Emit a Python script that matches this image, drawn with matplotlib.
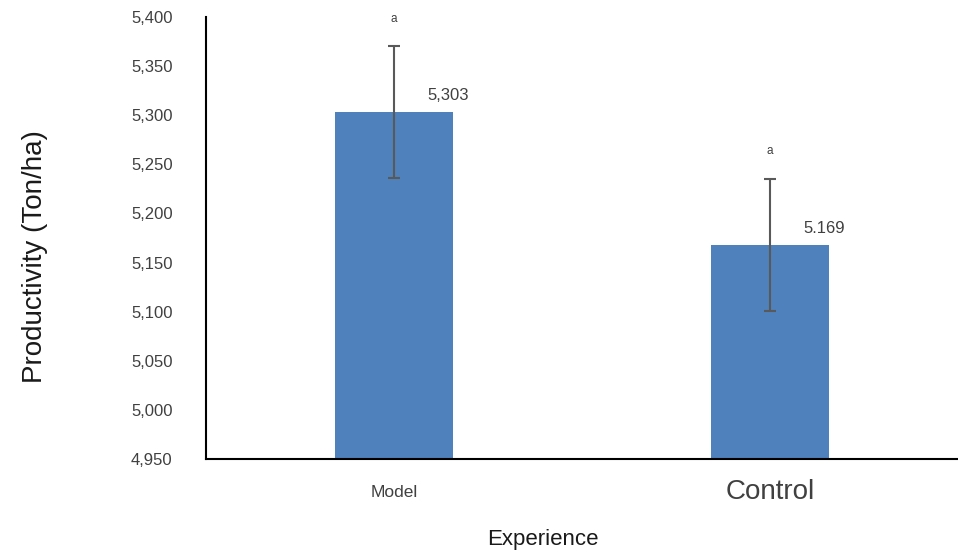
import matplotlib
matplotlib.use('Agg')
import matplotlib.pyplot as plt
from matplotlib.ticker import FuncFormatter

# data
categories = ['Model', 'Control']
productivity = [5303, 5168]
errors = [67, 67]
value_labels = ['5,303', '5.169']
letters = ['a', 'a']
cat_sizes = [12.5, 20]

plt.rcParams['font.family'] = ['Liberation Sans', 'DejaVu Sans']

fig = plt.figure(figsize=(9.58, 5.57), dpi=100)
ax = fig.add_axes([206/958, 1-459/557, 752/958, 442/557])

x = list(range(len(categories)))
ax.bar(x, productivity, width=0.316, color='#4f81bd', zorder=2)
ax.errorbar(x, productivity, yerr=errors, fmt='none', ecolor='#595959',
            elinewidth=1.5, capsize=4.5, capthick=1.5, zorder=3)

for i in x:
    # value label up and right of the bar top
    ax.annotate(value_labels[i], (i, productivity[i]), xytext=(24, 12),
                textcoords='offset points', ha='left', va='center',
                fontsize=12, color='#404040')
    # significance letter above the error bar
    ax.annotate(letters[i], (i, productivity[i] + errors[i]), xytext=(0, 20),
                textcoords='offset points', ha='center', va='center',
                fontsize=8.5, color='#404040')

ax.set_xlim(-0.5, 1.5)
ax.set_ylim(4950, 5400)
ax.set_yticks(range(4950, 5401, 50))
ax.yaxis.set_major_formatter(FuncFormatter(lambda v, p: f'{int(v):,}'))
ax.tick_params(axis='y', length=0, pad=24, labelsize=12, labelcolor='#404040')
ax.tick_params(axis='x', length=0, pad=24, labelcolor='#404040')
ax.set_xticks(x)
ax.set_xticklabels(categories)
for lab, s in zip(ax.get_xticklabels(), cat_sizes):
    lab.set_fontsize(s)
    lab.set_va('center')

for s in ['top', 'right']:
    ax.spines[s].set_visible(False)
for s in ['left', 'bottom']:
    ax.spines[s].set_linewidth(1.5)
    ax.spines[s].set_color('black')

ax.set_xlabel('Experience', fontsize=16, color='#1a1a1a', va='center')
ax.xaxis.set_label_coords(0.448, -0.183)
ax.set_ylabel('Productivity (Ton/ha)', fontsize=20, color='#1a1a1a', va='center')
ax.yaxis.set_label_coords(-0.227, 0.457)

fig.savefig('out.png', dpi=100, facecolor='white')
